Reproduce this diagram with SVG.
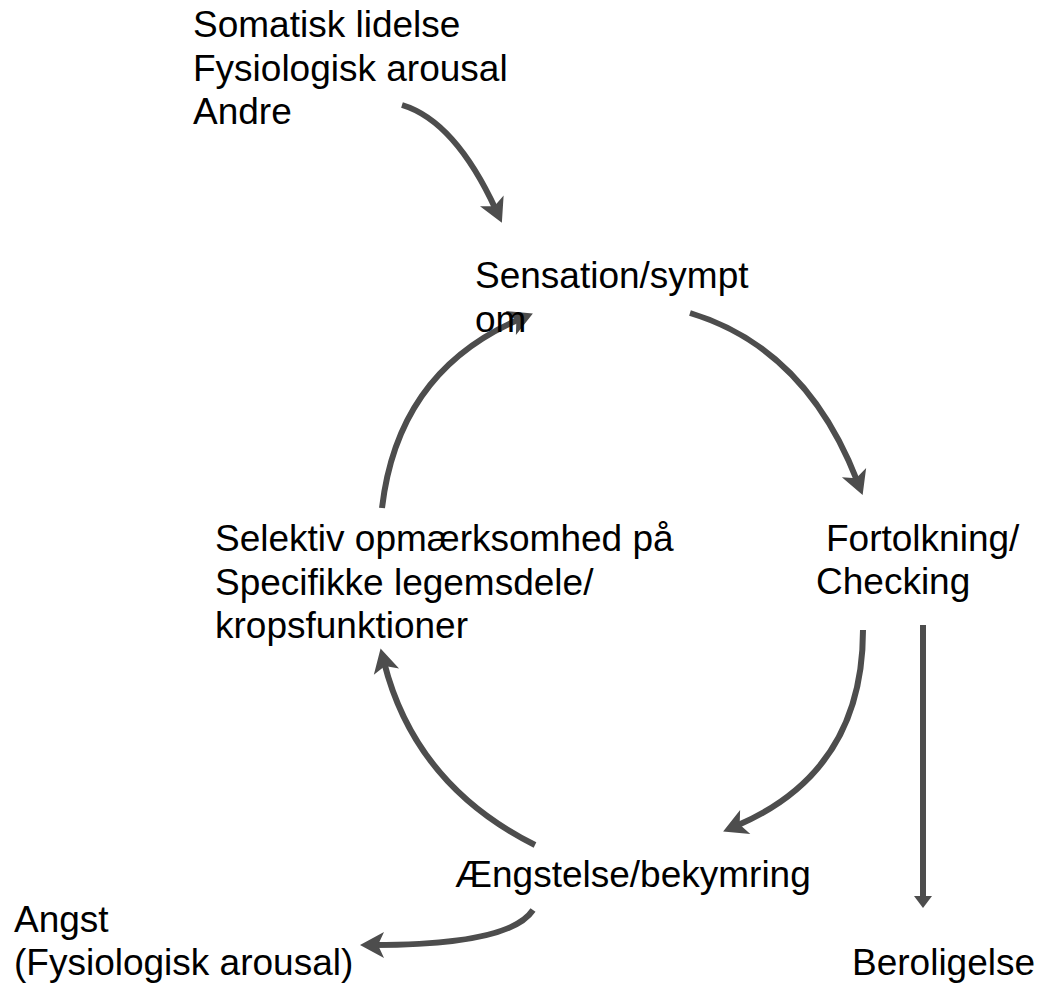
<svg xmlns="http://www.w3.org/2000/svg" width="1039" height="987" viewBox="0 0 1039 987">
<style>
text{font-family:"Liberation Sans",Arial,sans-serif;font-size:37px;fill:#000}
.c{fill:none;stroke:#4d4d4d;stroke-width:6}
</style>
<defs>
<marker id="st" markerUnits="userSpaceOnUse" markerWidth="30" markerHeight="30" viewBox="-2 -15 30 30" refX="10" refY="0" orient="auto">
<path d="M0,-13 L24,0 L0,13 L6,0 Z" fill="#4d4d4d"/>
</marker>
<marker id="tri" markerUnits="userSpaceOnUse" markerWidth="20" markerHeight="20" viewBox="0 -10 14 20" refX="2" refY="0" orient="auto">
<path d="M0,-9 L12,0 L0,9 Z" fill="#4d4d4d"/>
</marker>
</defs>
<rect width="1039" height="987" fill="#fff"/>
<g id="connectors">
<path class="c" d="M402,105 Q455,121 496,210" marker-end="url(#st)"/>
<path class="c" d="M690,313 Q806,348 857.6,482" marker-end="url(#st)"/>
<path class="c" d="M863,630 Q863,772 736,826" marker-end="url(#st)"/>
<path class="c" d="M535,845 Q415,785 384,662" marker-end="url(#st)"/>
<path class="c" d="M382,508 Q398,371 520,319" marker-end="url(#st)"/>
<path class="c" d="M533,910 Q510,945 374,945" marker-end="url(#st)"/>
<path class="c" d="M923,625 L923,898" marker-end="url(#tri)"/>
</g>
<g id="n-triggers"><text x="193" y="37">Somatisk lidelse</text><text x="193" y="81">Fysiologisk arousal</text><text x="193" y="124">Andre</text></g>
<g id="n-sensation"><text x="475" y="288">Sensation/sympt</text><text x="475" y="332">om</text></g>
<g id="n-fortolkning"><text x="826" y="551">Fortolkning/</text><text x="816" y="594">Checking</text></g>
<g id="n-selektiv"><text x="215" y="551">Selektiv opmærksomhed på</text><text x="215" y="595">Specifikke legemsdele/</text><text x="215" y="638">kropsfunktioner</text></g>
<g id="n-aengstelse"><text x="455" y="887">Ængstelse/bekymring</text></g>
<g id="n-angst"><text x="14" y="932">Angst</text><text x="14" y="975">(Fysiologisk arousal)</text></g>
<g id="n-beroligelse"><text x="852" y="975">Beroligelse</text></g>
</svg>
